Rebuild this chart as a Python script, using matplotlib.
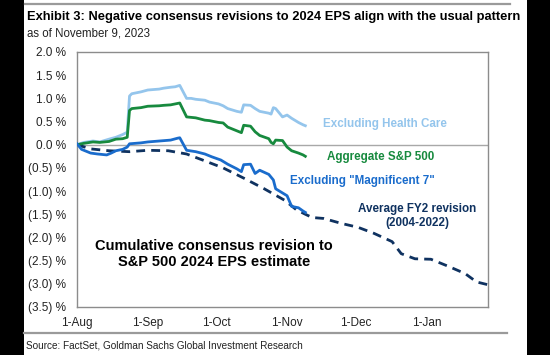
import matplotlib
matplotlib.use("Agg")
import matplotlib.pyplot as plt
import matplotlib.dates as mdates
import matplotlib.ticker as mticker
import pandas as pd
from matplotlib.patches import Rectangle
from matplotlib.lines import Line2D

plt.rcParams['font.family'] = ['Liberation Sans', 'DejaVu Sans']

# ---------------- data ----------------
hc_dates = ["2023-08-01", "2023-08-04", "2023-08-08", "2023-08-11", "2023-08-15", "2023-08-18",
            "2023-08-21", "2023-08-23", "2023-08-24", "2023-08-25", "2023-08-29", "2023-09-01",
            "2023-09-06", "2023-09-08", "2023-09-11", "2023-09-13", "2023-09-15", "2023-09-18",
            "2023-09-20", "2023-09-22", "2023-09-26", "2023-09-28", "2023-10-02", "2023-10-04",
            "2023-10-06", "2023-10-10", "2023-10-12", "2023-10-13", "2023-10-16", "2023-10-18",
            "2023-10-20", "2023-10-24", "2023-10-25", "2023-10-26", "2023-10-27", "2023-10-30",
            "2023-11-01", "2023-11-03", "2023-11-06", "2023-11-08", "2023-11-09"]
hc_vals = [0.00, 0.05, 0.08, 0.06, 0.12, 0.16,
           0.22, 0.27, 1.05, 1.10, 1.14, 1.18,
           1.20, 1.22, 1.24, 1.25, 1.28, 1.00,
           1.00, 0.98, 0.96, 0.92, 0.88, 0.84,
           0.78, 0.72, 0.70, 0.86, 0.85, 0.78,
           0.72, 0.68, 0.66, 0.80, 0.78, 0.60,
           0.64, 0.57, 0.48, 0.43, 0.41]

agg_dates = hc_dates
agg_vals = [0.00, 0.03, 0.06, 0.05, 0.07, 0.12,
            0.13, 0.16, 0.74, 0.78, 0.80, 0.83,
            0.84, 0.85, 0.86, 0.88, 0.90, 0.60,
            0.59, 0.58, 0.53, 0.52, 0.48, 0.47,
            0.38, 0.30, 0.26, 0.42, 0.40, 0.28,
            0.20, 0.13, 0.05, 0.02, 0.10, 0.09,
            -0.05, -0.13, -0.18, -0.22, -0.25]

exm7_dates = ["2023-08-01", "2023-08-03", "2023-08-07", "2023-08-10", "2023-08-14", "2023-08-16",
              "2023-08-18", "2023-08-21", "2023-08-23", "2023-08-24", "2023-08-29", "2023-09-01",
              "2023-09-06", "2023-09-11", "2023-09-14", "2023-09-15", "2023-09-18", "2023-09-22",
              "2023-09-26", "2023-09-29", "2023-10-03", "2023-10-06", "2023-10-10", "2023-10-12",
              "2023-10-13", "2023-10-16", "2023-10-18", "2023-10-20", "2023-10-24", "2023-10-26",
              "2023-10-27", "2023-10-30", "2023-11-01", "2023-11-03", "2023-11-06", "2023-11-08",
              "2023-11-09"]
exm7_vals = [0.02, -0.10, -0.18, -0.20, -0.22, -0.18,
             -0.13, -0.10, -0.05, 0.02, 0.04, 0.06,
             0.08, 0.10, 0.14, 0.15, -0.12, -0.15,
             -0.20, -0.26, -0.33, -0.42, -0.52, -0.58,
             -0.43, -0.42, -0.62, -0.55, -0.64, -0.76,
             -0.95, -1.04, -1.10, -1.33, -1.36, -1.43,
             -1.46]

avg_dates = ["2023-08-01", "2023-08-07", "2023-08-15", "2023-08-24", "2023-09-01", "2023-09-10",
             "2023-09-18", "2023-09-25", "2023-10-04", "2023-10-13", "2023-10-22", "2023-10-31",
             "2023-11-05", "2023-11-09", "2023-11-12", "2023-11-17", "2023-11-25", "2023-12-02",
             "2023-12-09", "2023-12-17", "2023-12-21", "2023-12-27", "2024-01-03", "2024-01-11",
             "2024-01-18", "2024-01-23", "2024-01-28"]
avg_vals = [0.00, -0.09, -0.13, -0.15, -0.12, -0.13,
            -0.20, -0.33, -0.50, -0.72, -0.95, -1.20,
            -1.40, -1.50, -1.57, -1.59, -1.70, -1.78,
            -1.91, -2.09, -2.35, -2.46, -2.47, -2.63,
            -2.78, -2.96, -3.02]

x_ticks = ["2023-08-01", "2023-09-01", "2023-10-01", "2023-11-01", "2023-12-01", "2024-01-01"]
y_ticks = [2.0, 1.5, 1.0, 0.5, 0.0, -0.5, -1.0, -1.5, -2.0, -2.5, -3.0, -3.5]

# ---------------- figure ----------------
W, H = 550, 355
fig = plt.figure(figsize=(W / 100, H / 100), dpi=100)
fig.patch.set_facecolor('black')

def fx(x):
    return x / W

def fy(y):
    return 1 - y / H

# white page area
fig.patches.append(Rectangle((fx(24), 0), fx(527) - fx(24), 1, transform=fig.transFigure,
                             facecolor='white', edgecolor='none', zorder=-10))
# gray rules
fig.add_artist(Line2D([fx(25), fx(510)], [fy(4), fy(4)], color='#9a9a9a', lw=1.6))
fig.add_artist(Line2D([fx(24), fx(507)], [fy(333), fy(333)], color='#9a9a9a', lw=1.6))

ax = fig.add_axes([fx(77), fy(307), fx(488) - fx(77), fy(52) - fy(307)])
ax.set_facecolor('white')

LB = '#94c5ec'
GR = '#178a3e'
BL = '#1a6ccc'
NV = '#0f3260'

ax.axhline(0, color='#a8a8a8', lw=1.0, zorder=1)

ax.plot(pd.to_datetime(avg_dates), avg_vals, color=NV, lw=2.0, ls=(0, (3.2, 2.2)), zorder=2)
ax.plot(pd.to_datetime(hc_dates), hc_vals, color=LB, lw=2.0, zorder=3)
ax.plot(pd.to_datetime(agg_dates), agg_vals, color=GR, lw=2.0, zorder=4)
ax.plot(pd.to_datetime(exm7_dates), exm7_vals, color=BL, lw=2.0, zorder=5)

ax.set_xlim(pd.Timestamp("2023-08-01"), pd.Timestamp("2024-01-28"))
ax.set_ylim(-3.5, 2.0)

ax.set_xticks(pd.to_datetime(x_ticks))
ax.xaxis.set_major_formatter(mdates.DateFormatter('%-d-%b'))
ax.set_yticks(y_ticks)

def yfmt(v, pos):
    if abs(v) < 1e-9:
        return "0.0 %"
    if v < 0:
        return "(%.1f) %%" % abs(v)
    return "%.1f %%" % v

ax.yaxis.set_major_formatter(mticker.FuncFormatter(yfmt))
ax.tick_params(axis='both', length=0, labelsize=8.5, colors='#222222')
ax.tick_params(axis='y', pad=8)
ax.tick_params(axis='x', pad=7)
for s in ax.spines.values():
    s.set_color('#8c8c8c')
    s.set_linewidth(1.0)

# texts
fig.text(fx(27), fy(17), "Exhibit 3: Negative consensus revisions to 2024 EPS align with the usual pattern",
         fontsize=9.3, fontweight='bold', color='black', va='center', ha='left')
fig.text(fx(27), fy(33), "as of November 9, 2023", fontsize=8.3, color='#222222', va='center', ha='left')
fig.text(fx(26), fy(345), "Source: FactSet, Goldman Sachs Global Investment Research",
         fontsize=7.2, color='#222222', va='center', ha='left')

fig.text(fx(323), fy(124), "Excluding Health Care", fontsize=8.4, fontweight='bold', color=LB,
         va='center', ha='left')
fig.text(fx(327), fy(157), "Aggregate S&P 500", fontsize=8.4, fontweight='bold', color=GR,
         va='center', ha='left')
fig.text(fx(290), fy(181), 'Excluding "Magnificent 7"', fontsize=8.4, fontweight='bold', color=BL,
         va='center', ha='left')
fig.text(fx(417), fy(216), "Average FY2 revision\n(2004-2022)", fontsize=8.4, fontweight='bold',
         color=NV, va='center', ha='center', linespacing=1.3)
fig.text(fx(214), fy(254), "Cumulative consensus revision to\nS&P 500 2024 EPS estimate",
         fontsize=10.5, fontweight='bold', color='black', va='center', ha='center', linespacing=1.25)

fig.savefig("out.png", dpi=100, facecolor=fig.get_facecolor())
